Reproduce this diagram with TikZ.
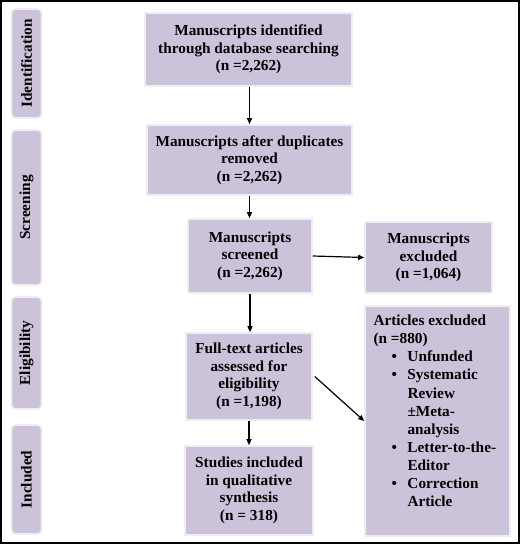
\documentclass[tikz,border=0pt]{standalone}
\usepackage{fontspec}
\setmainfont{Liberation Serif}
\usetikzlibrary{arrows.meta}
\definecolor{boxfill}{HTML}{CCC2DA}
\definecolor{boxline}{HTML}{EEEDF2}
\tikzset{
  stagebox/.style={draw=boxline, line width=1.6pt, fill=boxfill, inner sep=0pt,
    font=\fontsize{15.3}{17.6}\selectfont\bfseries, align=center},
  sidebox/.style={draw=boxline, line width=1.6pt, fill=boxfill, rounded corners=4pt,
    inner sep=0pt, minimum width=30pt, font=\fontsize{15.3}{17.6}\selectfont\bfseries},
  flow/.style={line width=1.2pt, -{Triangle[length=6pt,width=5pt]}}
}
\begin{document}
\begin{tikzpicture}[x=1pt,y=-1pt]
\useasboundingbox (0,0) rectangle (520,544);
\draw[line width=2pt] (1,1) rectangle (519,543);

% side labels
\node[sidebox, minimum height=109pt] (sid) at (26.5,63.5) {\rotatebox{90}{Identification}};
\node[sidebox, minimum height=155pt] (sscr) at (26.5,207.5) {\rotatebox{90}{Screening}};
\node[sidebox, minimum height=112pt] (seli) at (26.5,353) {\rotatebox{90}{Eligibility}};
\node[sidebox, minimum height=109pt] (sinc) at (26.5,479.5) {\rotatebox{90}{Included}};

% main boxes
\node[stagebox, minimum width=207pt, minimum height=73pt] (b1) at (248.5,49.5)
  {Manuscripts identified\\through database searching\\(n =2,262)};
\node[stagebox, minimum width=205pt, minimum height=70pt] (b2) at (249.5,160)
  {Manuscripts after duplicates\\removed\\(n =2,262)};
\node[stagebox, minimum width=124pt, minimum height=74pt] (b3) at (250,256)
  {Manuscripts\\screened\\(n =2,262)};
\node[stagebox, minimum width=126pt, minimum height=87pt] (b4) at (249,376.5)
  {Full-text articles\\assessed for\\eligibility\\(n =1,198)};
\node[stagebox, minimum width=128pt, minimum height=89pt] (b5) at (249,490.5)
  {Studies included\\in qualitative\\synthesis\\(n = 318)};
\node[stagebox, minimum width=127pt, minimum height=71pt] (e1) at (428.5,257.5)
  {Manuscripts\\excluded\\(n =1,064)};
\node[stagebox, minimum width=145pt, minimum height=230pt] (e2) at (437.5,421)
  {\parbox[c][212pt][t]{128pt}{\raggedright\fontsize{15.3}{18.1}\selectfont\bfseries
   Articles excluded\\
   (n =880)\\
   \hspace*{18pt}\makebox[16pt][l]{\textbullet}Unfunded\\
   \hspace*{18pt}\makebox[16pt][l]{\textbullet}Systematic\\
   \hspace*{34pt}Review\\
   \hspace*{34pt}\textpm Meta-\\
   \hspace*{34pt}analysis\\
   \hspace*{18pt}\makebox[16pt][l]{\textbullet}Letter-to-the-\\
   \hspace*{34pt}Editor\\
   \hspace*{18pt}\makebox[16pt][l]{\textbullet}Correction\\
   \hspace*{34pt}Article}};

% connectors
\draw[flow] ([xshift=1pt]b1.south) -- ([xshift=1pt]b1.south |- b2.north);
\draw[flow] (b2.south) -- (b2.south |- b3.north);
\draw[flow] (b3.south) -- (b3.south |- b4.north);
\draw[flow] (b4.south) -- (b4.south |- b5.north);
\draw[flow] (b3.east) -- (e1.west);
\draw[flow] ([xshift=2pt]b4.east) -- (e2.west);
\end{tikzpicture}
\end{document}
